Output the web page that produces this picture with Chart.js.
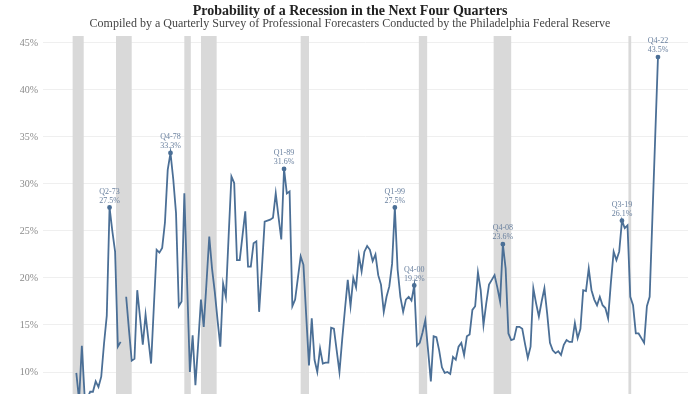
<!DOCTYPE html>
<html>
<head>
<meta charset="utf-8">
<script src="https://cdn.jsdelivr.net/npm/chart.js@4/dist/chart.umd.min.js"></script>
<style>
  html, body { margin: 0; padding: 0; background: #fff; }
  #wrap { width: 700px; height: 394px; position: relative; }
</style>
</head>
<body>
<div id="wrap"><canvas id="recessionChart"></canvas></div>
<script>
// quarterly series starts at Q2 1970 (earlier values sit below the visible range)
const startYear = 1970;
const startQuarter = 2;

const values1970s = [9.9, 7.0, 12.8, 7.4, 7.2, 7.9, 7.9, 9.0, 8.4, 9.5, 13.0, 16.0, 27.5, 25.0, 22.8, 12.7, 13.2, null,
    18.0, 14.5, 11.2, 11.4, 18.7, 15.8, 12.9, 16.1, 13.5, 10.9, 17.0, 23.0, 22.7, 23.2, 25.9, 31.5, 33.3, 30.5, 26.9, 17.0, 17.5];
const values1980s = [29.0, 19.5, 10.0, 13.9, 8.6, 13.0, 17.7, 14.8, 19.5, 24.4, 21.0, 18.5, 15.5, 12.7, 19.4, 18.0, 24.5, 30.8, 30.1, 21.9,
    21.9, 24.5, 27.1, 21.2, 21.2, 23.7, 23.9, 16.4, 21.0, 26.0, 26.1, 26.2, 26.4, 29.0, 26.5, 24.1, 31.6, 29.0, 29.2, 17.0];
const values1990s = [17.7, 20.0, 22.3, 21.4, 16.0, 10.7, 15.7, 11.3, 10.0, 12.5, 10.9, 11.0, 11.0, 14.7, 14.6, 12.3, 10.0, 13.5, 16.7, 19.8,
    17.0, 20.0, 19.0, 22.4, 20.7, 22.8, 23.4, 23.0, 21.8, 22.5, 20.3, 19.3, 16.4, 18.0, 19.1, 21.5, 27.5, 20.9, 18.0, 16.4];
const values2000s = [17.7, 18.0, 17.6, 19.2, 12.8, 13.1, 14.2, 15.5, 12.3, 9.0, 13.8, 13.7, 12.3, 10.5, 9.9, 10.0, 9.8, 11.6, 11.3, 12.7,
    13.1, 11.8, 13.8, 14.0, 16.6, 17.0, 20.6, 18.7, 15.0, 17.3, 19.3, 19.8, 20.3, 19.0, 17.5, 23.6, 21.0, 14.1, 13.4, 13.5];
const values2010s = [14.8, 14.8, 14.6, 13.0, 11.5, 12.7, 18.9, 17.3, 15.9, 17.5, 18.9, 16.2, 13.1, 12.3, 12.0, 12.2, 11.8, 12.9, 13.4, 13.2,
    13.2, 15.2, 13.6, 14.6, 18.7, 18.6, 21.0, 18.7, 17.7, 17.1, 18.0, 17.1, 16.8, 15.7, 19.5, 22.8, 21.9, 22.8, 26.1, 25.3];
const values2020s = [25.6, 18.0, 17.1, 14.1, 14.1, 13.6, 13.1, 17.0, 18.0, 26.5, 35.0, 43.5];

const annotatedQuarters = ['Q2-73', 'Q4-78', 'Q1-89', 'Q1-99', 'Q4-00', 'Q4-08', 'Q3-19', 'Q4-22'];

// NBER recessions, peak month to trough month
const recessions = [
    ['1969-12', '1970-11'], ['1973-11', '1975-03'], ['1980-01', '1980-07'], ['1981-07', '1982-11'],
    ['1990-07', '1991-03'], ['2001-03', '2001-11'], ['2007-12', '2009-06'], ['2020-02', '2020-04'],
];

const yTicks = [10, 15, 20, 25, 30, 35, 40, 45];

const values = [].concat(values1970s, values1980s, values1990s, values2000s, values2010s, values2020s);
const quarterLabels = [];
const quarterX = [];
values.forEach((v, i) => {
    const n = (startQuarter - 1) + i;
    const year = startYear + Math.floor(n / 4);
    const q = (n % 4) + 1;
    quarterLabels.push('Q' + q + '-' + String(year).slice(2));
    quarterX.push(year + (q - 1) / 4);
});

const monthToYear = (s, end) => {
    const [y, m] = s.split('-').map(Number);
    return y + (m - 1 + (end ? 1 : 0)) / 12;
};

const serif = '"Liberation Serif", "DejaVu Serif", serif';
const lineColor = '#4b6f96';

const recessionBands = {
    id: 'recessionBands',
    beforeDatasetsDraw(chart) {
        const { ctx, chartArea, scales } = chart;
        ctx.save();
        ctx.fillStyle = '#d9d9d9';
        recessions.forEach(([a, b]) => {
            const x1 = scales.x.getPixelForValue(monthToYear(a, false));
            const x2 = scales.x.getPixelForValue(monthToYear(b, true));
            ctx.fillRect(x1, chartArea.top, x2 - x1, chartArea.bottom - chartArea.top);
        });
        ctx.restore();
    },
};

const peakLabels = {
    id: 'peakLabels',
    afterDatasetsDraw(chart) {
        const { ctx } = chart;
        const meta = chart.getDatasetMeta(0);
        ctx.save();
        ctx.font = '8px ' + serif;
        ctx.fillStyle = '#6a819f';
        ctx.textAlign = 'center';
        ctx.textBaseline = 'middle';
        annotatedQuarters.forEach((q) => {
            const idx = quarterLabels.indexOf(q);
            const pt = meta.data[idx];
            ctx.fillText(q, pt.x, pt.y - 16);
            ctx.fillText(values[idx].toFixed(1) + '%', pt.x, pt.y - 7);
        });
        ctx.restore();
    },
};

const titles = {
    id: 'titles',
    afterDraw(chart) {
        const { ctx } = chart;
        ctx.save();
        ctx.textAlign = 'center';
        ctx.textBaseline = 'middle';
        ctx.fillStyle = '#222';
        ctx.font = 'bold 14px ' + serif;
        ctx.fillText('Probability of a Recession in the Next Four Quarters', 350, 11);
        ctx.fillStyle = '#444';
        ctx.font = '12px ' + serif;
        ctx.fillText('Compiled by a Quarterly Survey of Professional Forecasters Conducted by the Philadelphia Federal Reserve', 350, 24);
        ctx.restore();
    },
};

new Chart(document.getElementById('recessionChart').getContext('2d'), {
    type: 'line',
    data: {
        datasets: [{
            label: 'Probability of a Recession',
            data: values.map((v, i) => ({ x: quarterX[i], y: v })),
            borderColor: lineColor,
            backgroundColor: lineColor,
            borderWidth: 1.8,
            pointRadius: (c) => annotatedQuarters.includes(quarterLabels[c.dataIndex]) ? 1.5 : 0,
            pointHoverRadius: 0,
            tension: 0,
            spanGaps: false,
        }],
    },
    plugins: [recessionBands, peakLabels, titles],
    options: {
        responsive: true,
        maintainAspectRatio: false,
        animation: false,
        layout: { autoPadding: false, padding: { top: 36, right: 12, bottom: 0, left: 0 } },
        plugins: {
            legend: { display: false },
            tooltip: { enabled: false },
        },
        scales: {
            x: {
                type: 'linear',
                display: false,
                min: 1967.243,
                max: 2025.46,
            },
            y: {
                min: 7.66,
                max: 45.74,
                afterBuildTicks: (scale) => { scale.ticks = yTicks.map((v) => ({ value: v })); },
                afterFit: (scale) => {
                    scale.width = 43;
                    scale.paddingTop = 0;
                    scale.paddingBottom = 0;
                },
                border: { display: false },
                grid: { color: '#efefef', drawTicks: false },
                ticks: {
                    color: '#8a8a8a',
                    padding: 5,
                    font: { family: serif, size: 10 },
                    callback: (v) => v + '%',
                },
            },
        },
    },
});
</script>
</body>
</html>
